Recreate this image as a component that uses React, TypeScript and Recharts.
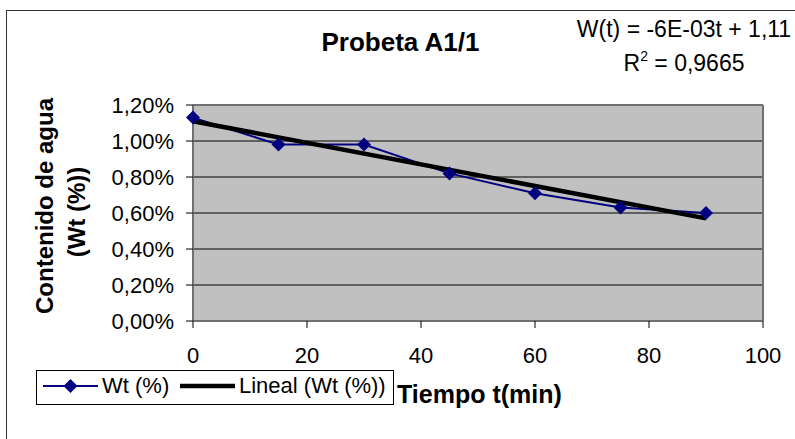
import React from 'react';
import { ComposedChart, Line, XAxis, YAxis, CartesianGrid, Legend, ReferenceLine, Label } from 'recharts';

// Probeta A1/1 - contenido de agua vs tiempo
const tiempos = [0, 15, 30, 45, 60, 75, 90];
const contenido = [1.13, 0.98, 0.98, 0.82, 0.71, 0.63, 0.6];

// linea de tendencia (extremos)
const ajusteT = [0, 90];
const ajusteW = [1.11, 0.57];

const xTicks = [0, 20, 40, 60, 80, 100];
const yTicks = [0, 0.2, 0.4, 0.6, 0.8, 1.0, 1.2];

const FONT = '"Liberation Sans", Arial, sans-serif';
const NAVY = '#000080';
const BORDER = '#707070';

const data = tiempos.map((t, i) => ({ t, wt: contenido[i] }));
const trend = ajusteT.map((t, i) => ({ t, fit: ajusteW[i] }));

const fmtPct = (v: number) => v.toFixed(2).replace('.', ',') + '%';

const Diamond = (props: any) => {
    const { cx, cy, index } = props;
    if (cx == null || cy == null) return null;
    const r = 7;
    return (
        <polygon
            key={'d' + index}
            points={`${cx},${cy - r} ${cx + r},${cy} ${cx},${cy + r} ${cx - r},${cy}`}
            fill={NAVY}
        />
    );
};

const LegendBox = () => (
    <svg width={358} height={35} style={{ display: 'block' }}>
        <rect x={0.5} y={0.5} width={357} height={34} fill="#fff" stroke="#000" />
        <line x1={7} y1={16} x2={62} y2={16} stroke={NAVY} strokeWidth={2} />
        <polygon points="34.5,9 41.5,16 34.5,23 27.5,16" fill={NAVY} />
        <text x={66} y={23} fontFamily={FONT} fontSize={22} fill="#000">Wt (%)</text>
        <line x1={144} y1={16} x2={199} y2={16} stroke="#000" strokeWidth={4.5} />
        <text x={203} y={23} fontFamily={FONT} fontSize={22} fill="#000">Lineal (Wt (%))</text>
    </svg>
);

const App: React.FC = () => {
    return (
        <div style={{ position: 'absolute', left: 0, top: 0, width: 795, height: 439, overflow: 'hidden', background: '#fff' }}>
            <svg width={795} height={439} style={{ position: 'absolute', left: 0, top: 0 }}>
                <rect x={6.5} y={10.5} width={820} height={460} fill="#fff" stroke="#333" />
                <text x={400.5} y={51} textAnchor="middle" fontFamily={FONT} fontSize={26} fontWeight="bold">Probeta A1/1</text>
                <text x={684} y={37} textAnchor="middle" fontFamily={FONT} fontSize={23}>W(t) = -6E-03t + 1,11</text>
                <text x={684} y={71} textAnchor="middle" fontFamily={FONT} fontSize={23}>
                    R<tspan fontSize={14} dy={-10}>2</tspan><tspan dy={10}> = 0,9665</tspan>
                </text>
                <text transform="translate(53,206) rotate(-90)" textAnchor="middle" fontFamily={FONT} fontSize={24} fontWeight="bold">Contenido de agua</text>
                <text transform="translate(85,212) rotate(-90)" textAnchor="middle" fontFamily={FONT} fontSize={24} fontWeight="bold">(Wt (%))</text>
            </svg>
            <div style={{ position: 'absolute', left: 0, top: 0 }}>
                <ComposedChart width={795} height={439} data={data} margin={{ top: 105, right: 32, bottom: 0, left: 0 }}>
                    <CartesianGrid vertical={false} stroke="#000" fill="#C0C0C0" fillOpacity={1} />
                    <XAxis
                        dataKey="t"
                        type="number"
                        domain={[0, 100]}
                        ticks={xTicks}
                        height={118}
                        tickSize={7}
                        tickMargin={19}
                        axisLine={{ stroke: BORDER, strokeWidth: 2 }}
                        tickLine={{ stroke: '#000' }}
                        tick={{ fill: '#000', fontSize: 22, fontFamily: FONT }}
                    >
                        <Label
                            content={() => (
                                <text x={397} y={403} fontFamily={FONT} fontSize={25} fontWeight="bold" fill="#000">Tiempo t(min)</text>
                            )}
                        />
                    </XAxis>
                    <YAxis
                        type="number"
                        domain={[0, 1.2]}
                        ticks={yTicks}
                        width={193}
                        tickSize={7}
                        tickMargin={12}
                        tickFormatter={fmtPct}
                        axisLine={{ stroke: BORDER, strokeWidth: 2 }}
                        tickLine={{ stroke: '#000' }}
                        tick={{ fill: '#000', fontSize: 22, fontFamily: FONT }}
                    />
                    <ReferenceLine y={1.2} stroke={BORDER} strokeWidth={2} />
                    <ReferenceLine x={100} stroke={BORDER} strokeWidth={2} />
                    <Line dataKey="wt" type="linear" stroke={NAVY} strokeWidth={2} dot={Diamond} activeDot={false} isAnimationActive={false} />
                    <Line data={trend} dataKey="fit" type="linear" stroke="#000" strokeWidth={4.5} dot={false} activeDot={false} legendType="none" isAnimationActive={false} />
                    <Legend
                        layout="horizontal"
                        verticalAlign="middle"
                        align="center"
                        wrapperStyle={{ left: 36, top: 370, width: 358, height: 35 }}
                        content={LegendBox}
                    />
                </ComposedChart>
            </div>
        </div>
    );
};

export default App;
